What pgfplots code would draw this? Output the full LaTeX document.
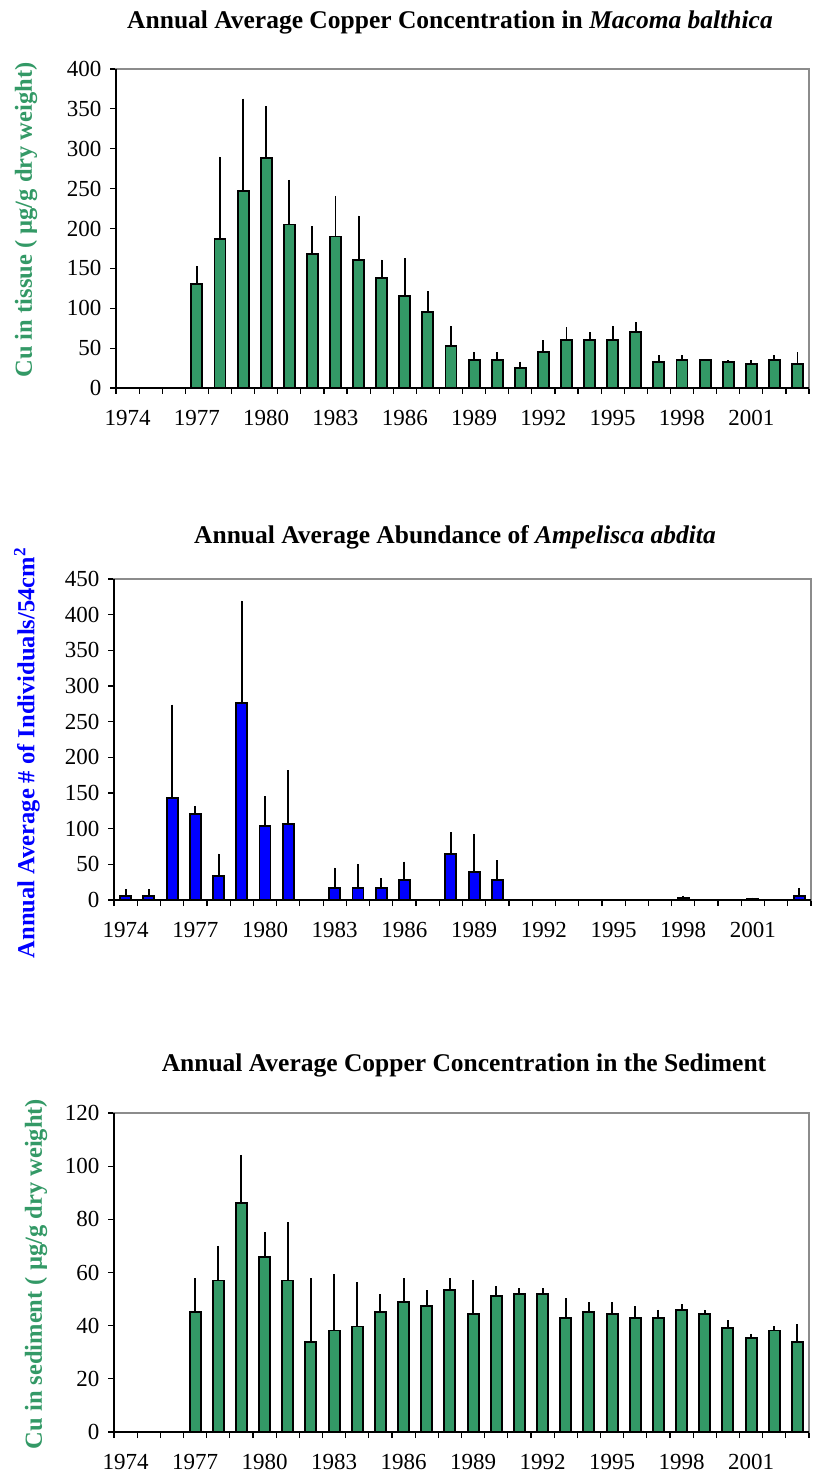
\documentclass[border=0pt]{standalone}
\usepackage{pgfplots}
\pgfplotsset{compat=1.18}
\usepackage{pgfplotstable}
\usepackage{fontspec}
\setmainfont{Liberation Serif}
\definecolor{sg}{RGB}{51,153,102}
\definecolor{bl}{RGB}{0,0,255}

\pgfplotstableread{
x y ey
3 130 23
4 187 103
5 247 116
6 288 65
7 205 56
8 168 35
9 190 51
10 160 56
11 138 23
12 115 48
13 95 26
14 53 25
15 35 10
16 35 10
17 25 8
18 45 15
19 60 16
20 60 10
21 60 18
22 70 13
23 33 8
24 35 6
25 35 0
26 33 2
27 30 5
28 35 6
29 30 15
}\tissue

\pgfplotstableread{
x y ey
0 5.6 9.4
1 5.6 9.4
2 142.5 131.5
3 120 12
4 33.6 31.4
5 276.6 143
6 103.7 42
7 106.5 75.5
9 16.8 28.5
10 16.8 33.7
11 16.8 14
12 28 25.7
14 64.5 30.8
15 39.3 53.2
16 28 28
24 3 3
25 0.5 0
26 0.5 0
27 0.8 2.5
28 0.5 0
29 5.6 11.4
}\ampel

\pgfplotstableread{
x y ey
3 45 12.9
4 57 13
5 86.3 18
6 66 9.2
7 57 21.9
8 33.7 24.2
9 38.2 21.2
10 39.7 16.7
11 45 6.9
12 48.8 9.1
13 47.3 6.1
14 53.3 4.5
15 44.3 12.9
16 51 3.8
17 51.8 2.2
18 51.8 2.2
19 42.8 7.6
20 45 3.9
21 44.3 4.6
22 42.8 4.6
23 42.8 3.1
24 45.8 2.2
25 44.3 1.6
26 39 3.1
27 35.2 1.7
28 38.2 1.5
29 33.7 6.9
}\sediment

\pgfplotsset{
 panel/.style={
  scale only axis, anchor=north west,
  xmin=-0.5, xmax=29.5, ymin=0,
  xtick={0,3,...,27},
  xticklabels={1974,1977,1980,1983,1986,1989,1992,1995,1998,2001},
  minor xtick={-0.5,0.5,...,29.5},
  major x tick style={draw=none},
  tick align=outside, tick pos=left,
  major tick length=6pt, minor tick length=6pt,
  axis line style={draw=black!45, line width=1.4pt},
  tick style={black, line width=1.2pt},
  ticklabel style={font=\fontsize{23}{23}\selectfont},
  xticklabel style={yshift=-13pt},
  yticklabel style={xshift=-5pt},
  /pgf/number format/assume math mode=true,
  ybar, bar width=11pt,
  clip=false,
 },
 bars/.style={
  draw=black, line width=1.9pt,
  error bars/y dir=plus, error bars/y explicit, error bars/error mark=none,
  error bars/error bar style={black, line width=1.9pt},
 }
}

\begin{document}
\begin{tikzpicture}
\path (0pt,0pt) rectangle (812pt,-1479pt);

% Panel 1
\node[font=\bfseries\fontsize{25.5}{25.5}\selectfont] at (450pt,-22pt) {Annual Average Copper Concentration in \textit{Macoma balthica}};
\node[rotate=90, font=\bfseries\fontsize{24.5}{24.5}\selectfont, text=sg] at (26pt,-220pt) {Cu in tissue ( µg/g dry weight)};
\begin{axis}[panel, at={(116pt,-69pt)}, width=693pt, height=319pt, ymax=400, ytick distance=50]
\addplot[bars, fill=sg] table[x=x, y=y, y error=ey] {\tissue};
\draw[black, line width=1.7pt] (rel axis cs:0,1) -- (rel axis cs:0,0) -- (rel axis cs:1,0);
\end{axis}

% Panel 2
\node[font=\bfseries\fontsize{25.5}{25.5}\selectfont] at (455pt,-537pt) {Annual Average Abundance of \textit{Ampelisca abdita}};
\node[rotate=90, font=\bfseries\fontsize{24.5}{24.5}\selectfont, text=bl] at (27pt,-753pt) {Annual Average \# of Individuals/54cm\textsuperscript{2}};
\begin{axis}[panel, at={(114pt,-579pt)}, width=697pt, height=321pt, ymax=450, ytick distance=50]
\addplot[bars, fill=bl] table[x=x, y=y, y error=ey] {\ampel};
\draw[black, line width=1.7pt] (rel axis cs:0,1) -- (rel axis cs:0,0) -- (rel axis cs:1,0);
\end{axis}

% Panel 3
\node[font=\bfseries\fontsize{25.5}{25.5}\selectfont] at (464pt,-1065pt) {Annual Average Copper Concentration in the Sediment};
\node[rotate=90, font=\bfseries\fontsize{24.5}{24.5}\selectfont, text=sg] at (36pt,-1274pt) {Cu in sediment ( µg/g dry weight)};
\begin{axis}[panel, at={(114pt,-1113pt)}, width=695pt, height=319pt, ymax=120, ytick distance=20]
\addplot[bars, fill=sg] table[x=x, y=y, y error=ey] {\sediment};
\draw[black, line width=1.7pt] (rel axis cs:0,1) -- (rel axis cs:0,0) -- (rel axis cs:1,0);
\end{axis}
\end{tikzpicture}
\end{document}
